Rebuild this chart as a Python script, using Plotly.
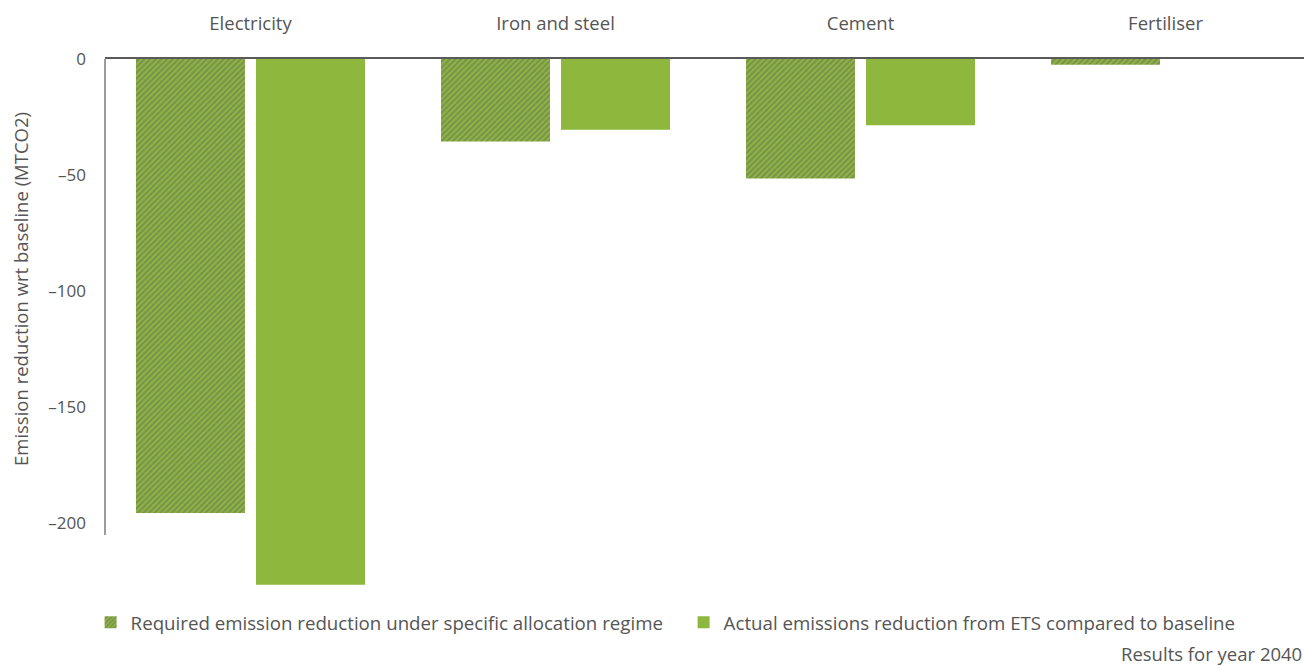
import plotly.graph_objects as go

# Sector results, emission reduction relative to baseline (MtCO2), year 2040
sectors = ["Electricity", "Iron and steel", "Cement", "Fertiliser"]
required_reduction = [-195.5, -35.5, -51.5, -2.5]
actual_reduction = [-226.5, -30.5, -28.5, 0.0]

series_names = [
    "Required emission reduction under specific allocation regime",
    "Actual emissions reduction from ETS compared to baseline",
]
y_ticks = [0, -50, -100, -150, -200]

GREEN = "#8DB73D"
HATCH = "#666666"
TEXT = "#555555"
AXIS = "#5A5A5A"
FONT = "Open Sans"

fig = go.Figure()

fig.add_trace(go.Bar(
    x=sectors,
    y=required_reduction,
    name=series_names[0],
    marker=dict(
        color=GREEN,
        line=dict(width=0),
        pattern=dict(shape="/", fgcolor=HATCH, bgcolor=GREEN, size=4, solidity=0.5),
    ),
))

fig.add_trace(go.Bar(
    x=sectors,
    y=actual_reduction,
    name=series_names[1],
    marker=dict(color=GREEN, line=dict(width=0)),
))

# Left axis line stops at the last labelled tick
fig.add_shape(
    type="line", xref="paper", yref="y",
    x0=0, x1=0, y0=0, y1=-205,
    line=dict(color=AXIS, width=1.2),
)

fig.add_annotation(
    text="Emission reduction wrt baseline (MTCO2)",
    xref="paper", yref="paper",
    x=-0.071, y=0.569, xanchor="center", yanchor="middle", textangle=-90,
    showarrow=False,
    font=dict(family=FONT, size=18.5, color=TEXT),
)

fig.add_annotation(
    text="Results for year 2040",
    xref="paper", yref="paper",
    x=1.0, y=-0.114, xanchor="right", yanchor="middle",
    showarrow=False,
    font=dict(family=FONT, size=18.5, color=TEXT),
)

fig.update_layout(
    width=1304,
    height=668,
    margin=dict(l=105, r=0, t=59, b=75),
    paper_bgcolor="white",
    plot_bgcolor="white",
    barmode="group",
    bargap=0.213,
    bargroupgap=0.092,
    font=dict(family=FONT, color=TEXT),
    showlegend=True,
    legend=dict(
        orientation="h",
        x=-0.012, xanchor="left",
        y=-0.02, yanchor="top",
        font=dict(family=FONT, size=18.7, color=TEXT),
        itemwidth=30,
        entrywidth=548,
        entrywidthmode="pixels",
        traceorder="normal",
    ),
    xaxis=dict(
        side="top",
        range=[-0.477, 3.454],
        showline=True,
        linecolor=AXIS,
        linewidth=2,
        ticks="",
        ticklabelstandoff=20,
        tickfont=dict(family=FONT, size=18.5, color=TEXT),
        showgrid=False,
        zeroline=False,
        fixedrange=True,
    ),
    yaxis=dict(
        range=[-230, 0],
        tickvals=y_ticks,
        ticktext=[f"{v}".replace("-", "–") for v in y_ticks],
        showline=False,
        showgrid=False,
        zeroline=False,
        ticks="",
        ticklabelstandoff=18,
        tickfont=dict(family=FONT, size=17, color=TEXT),
        fixedrange=True,
    ),
)

fig.write_html("out.html")
